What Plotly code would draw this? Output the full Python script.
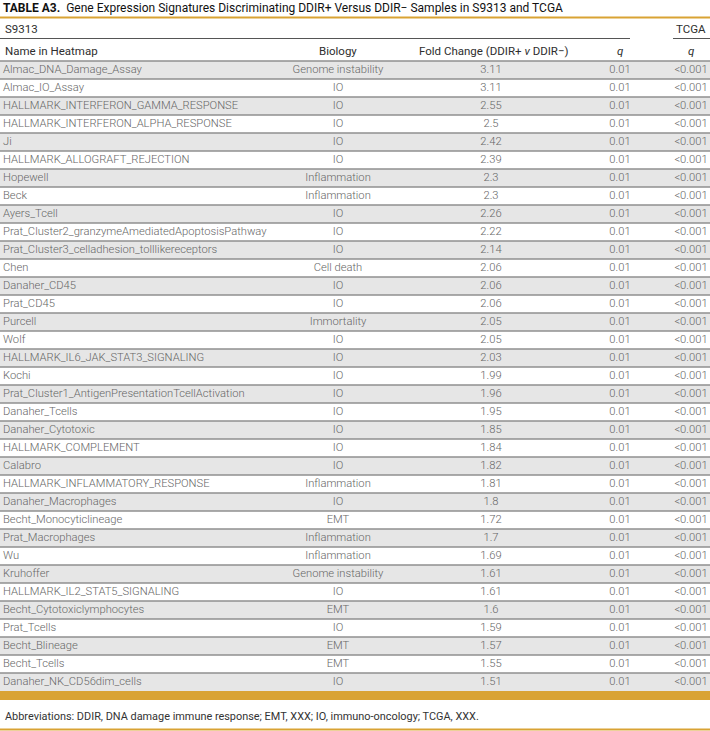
import plotly.graph_objects as go

names = [
    "Almac_DNA_Damage_Assay", "Almac_IO_Assay", "HALLMARK_INTERFERON_GAMMA_RESPONSE",
    "HALLMARK_INTERFERON_ALPHA_RESPONSE", "Ji", "HALLMARK_ALLOGRAFT_REJECTION",
    "Hopewell", "Beck", "Ayers_Tcell", "Prat_Cluster2_granzymeAmediatedApoptosisPathway",
    "Prat_Cluster3_celladhesion_tolllikereceptors", "Chen", "Danaher_CD45", "Prat_CD45",
    "Purcell", "Wolf", "HALLMARK_IL6_JAK_STAT3_SIGNALING", "Kochi",
    "Prat_Cluster1_AntigenPresentationTcellActivation", "Danaher_Tcells", "Danaher_Cytotoxic",
    "HALLMARK_COMPLEMENT", "Calabro", "HALLMARK_INFLAMMATORY_RESPONSE", "Danaher_Macrophages",
    "Becht_Monocyticlineage", "Prat_Macrophages", "Wu", "Kruhoffer",
    "HALLMARK_IL2_STAT5_SIGNALING", "Becht_Cytotoxiclymphocytes", "Prat_Tcells",
    "Becht_Blineage", "Becht_Tcells", "Danaher_NK_CD56dim_cells",
]
biology = [
    "Genome instability", "IO", "IO", "IO", "IO", "IO", "Inflammation", "Inflammation",
    "IO", "IO", "IO", "Cell death", "IO", "IO", "Immortality", "IO", "IO", "IO", "IO",
    "IO", "IO", "IO", "IO", "Inflammation", "IO", "EMT", "Inflammation", "Inflammation",
    "Genome instability", "IO", "EMT", "IO", "EMT", "EMT", "IO",
]
fold_change = [
    "3.11", "3.11", "2.55", "2.5", "2.42", "2.39", "2.3", "2.3", "2.26", "2.22", "2.14",
    "2.06", "2.06", "2.06", "2.05", "2.05", "2.03", "1.99", "1.96", "1.95", "1.85", "1.84",
    "1.82", "1.81", "1.8", "1.72", "1.7", "1.69", "1.61", "1.61", "1.6", "1.59", "1.57",
    "1.55", "1.51",
]
q_s9313 = [
    "0.01", "0.01", "0.01", "0.01", "0.01", "0.01", "0.01", "0.01", "0.01", "0.01", "0.01",
    "0.01", "0.01", "0.01", "0.01", "0.01", "0.01", "0.01", "0.01", "0.01", "0.01", "0.01",
    "0.01", "0.01", "0.01", "0.01", "0.01", "0.01", "0.01", "0.01", "0.01", "0.01", "0.01",
    "0.01", "0.01",
]
q_tcga = [
    "<0.001", "<0.001", "<0.001", "<0.001", "<0.001", "<0.001", "<0.001", "<0.001",
    "<0.001", "<0.001", "<0.001", "<0.001", "<0.001", "<0.001", "<0.001", "<0.001",
    "<0.001", "<0.001", "<0.001", "<0.001", "<0.001", "<0.001", "<0.001", "<0.001",
    "<0.001", "<0.001", "<0.001", "<0.001", "<0.001", "<0.001", "<0.001", "<0.001",
    "<0.001", "<0.001", "<0.001",
]
col_headers = ["Name in Heatmap", "Biology", "Fold Change (DDIR+ <i>v</i> DDIR\u2212)", "<i>q</i>", "<i>q</i>"]
group_headers = ["S9313", "TCGA"]
title_bold = "TABLE A3."
title_rest = "Gene Expression Signatures Discriminating DDIR+ Versus DDIR\u2212 Samples in S9313 and TCGA"
footnote = "Abbreviations: DDIR, DNA damage immune response; EMT, XXX; IO, immuno-oncology; TCGA, XXX."

# ---- layout / style (pixel space) ----
W, H = 710, 731
ROW_TOP0, ROW_H = 61, 18
GOLD = "#d9a334"
GRAY_FILL = "#e6e6e6"
LINE = "#8f8f8f"
FONT = "Roboto"
FS = 11.2
BODY_COLOR = "#666666"
HEAD_COLOR = "#2e2e2e"
col_x = {"name": 3, "bio": 338, "fc": 491, "q": 620, "tcga": 691}

n = len(names)
row_y = [ROW_TOP0 + ROW_H * (i + 0.5) for i in range(n)]

fig = go.Figure()

def text_trace(x, texts, pos):
    fig.add_trace(go.Scatter(
        x=[x] * len(texts), y=row_y, text=texts, mode="text", textposition=pos,
        textfont=dict(family=FONT, size=FS, color=BODY_COLOR, weight=300),
        hoverinfo="skip", showlegend=False, cliponaxis=False))

text_trace(col_x["name"], names, "middle right")
text_trace(col_x["bio"], biology, "middle center")
text_trace(col_x["fc"], fold_change, "middle center")
text_trace(col_x["q"], q_s9313, "middle center")
text_trace(col_x["tcga"], q_tcga, "middle center")

shapes = []
for i in range(n):
    top = ROW_TOP0 + ROW_H * i
    if i % 2 == 0:
        shapes.append(dict(type="rect", xref="x", yref="y", x0=0, x1=W, y0=top, y1=top + ROW_H,
                           fillcolor=GRAY_FILL, line=dict(width=0), layer="below"))
for i in range(n):
    top = ROW_TOP0 + ROW_H * i
    shapes.append(dict(type="line", xref="x", yref="y", x0=0, x1=W, y0=top, y1=top,
                       line=dict(color=LINE, width=1.3), layer="below"))
bottom = ROW_TOP0 + ROW_H * n
# gold rules
shapes.append(dict(type="line", xref="x", yref="y", x0=0, x1=W, y0=17.5, y1=17.5,
                   line=dict(color=GOLD, width=2)))
shapes.append(dict(type="rect", xref="x", yref="y", x0=0, x1=W, y0=bottom, y1=bottom + 9,
                   fillcolor=GOLD, line=dict(width=0)))
shapes.append(dict(type="line", xref="x", yref="y", x0=0, x1=W, y0=729.5, y1=729.5,
                   line=dict(color=GOLD, width=2)))
# group header rules
shapes.append(dict(type="line", xref="x", yref="y", x0=0, x1=630, y0=38.5, y1=38.5,
                   line=dict(color="#555555", width=1)))
shapes.append(dict(type="line", xref="x", yref="y", x0=673, x1=W, y0=38.5, y1=38.5,
                   line=dict(color="#555555", width=1)))

ann = []
def a(x, y, t, xanchor, color=HEAD_COLOR, size=FS, weight=400):
    ann.append(dict(x=x, y=y, xref="x", yref="y", text=t, showarrow=False, xanchor=xanchor,
                    yanchor="middle", font=dict(family=FONT, size=size, color=color, weight=weight)))

a(1, 8, f"<b>{title_bold}</b>  {title_rest}", "left", "#111111", size=12)
a(col_x["name"], 29, group_headers[0], "left", size=11.5)
a(col_x["tcga"], 29, group_headers[1], "center", size=11.5)
a(col_x["name"], 51, col_headers[0], "left", size=11.5)
a(col_x["bio"], 51, col_headers[1], "center", size=11.5)
a(col_x["fc"] + 3, 51, col_headers[2], "center", size=11.5)
a(col_x["q"], 51, col_headers[3], "center", size=11.5)
a(col_x["tcga"], 51, col_headers[4], "center", size=11.5)
a(col_x["name"], 716, footnote, "left", "#333333", size=10.9)

fig.update_layout(
    width=W, height=H, margin=dict(l=0, r=0, t=0, b=0),
    paper_bgcolor="white", plot_bgcolor="white",
    xaxis=dict(range=[0, W], visible=False, fixedrange=True),
    yaxis=dict(range=[H, 0], visible=False, fixedrange=True),
    shapes=shapes, annotations=ann,
)
fig.write_html(
    "out.html",
    config={"displayModeBar": False},
    post_script="document.body.style.margin='0';document.body.style.overflow='hidden';",
)
